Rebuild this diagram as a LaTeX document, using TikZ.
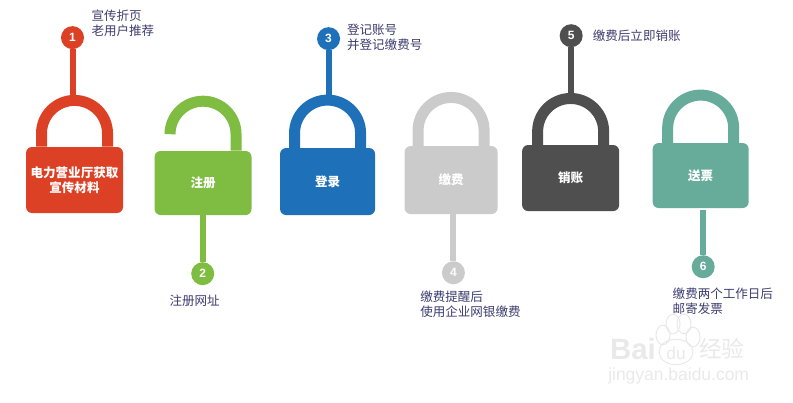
\documentclass[tikz,border=0pt]{standalone}
\usepackage{fontspec}
\setmainfont{Noto Sans CJK SC}
\newfontfamily\latinfont{Liberation Sans}
\usetikzlibrary{positioning}
\definecolor{lockred}{HTML}{DC4126}
\definecolor{lockgreen}{HTML}{7FBC42}
\definecolor{lockblue}{HTML}{1E71B8}
\definecolor{lockgray}{HTML}{CBCBCB}
\definecolor{lockdark}{HTML}{4F4F4F}
\definecolor{lockteal}{HTML}{67AB9B}
\definecolor{notetext}{HTML}{3C3C6E}
\definecolor{marktext}{HTML}{E9E9E9}

\begin{document}
\begin{tikzpicture}[
    x=0.75pt, y=0.75pt,
    lockbody/.style={fill=#1, rounded corners=4.5pt, minimum width=72.75pt,
minimum height=49.5pt, inner sep=0pt, align=center, text=white, font=\bfseries\fontsize{9.4}{11.2}\selectfont},
    numdot/.style={circle, fill=#1, minimum size=17.25pt, inner sep=0pt, text=white,
font=\latinfont\bfseries\fontsize{9}{10}\selectfont},
    note/.style={inner sep=0pt, align=left, text=notetext, font=\fontsize{9.4}{11.25}\selectfont},
    stem/.style={draw=#1, line width=4.5pt},
    shackle/.style={draw=#1, line width=8.25pt},
    marktxt/.style={inner sep=0pt, text=marktext}]

    \useasboundingbox (0,0) rectangle (793,-403);

    \node[lockbody=lockred] (lock1) at (74.5,-180) {电力营业厅获取\\宣传材料};
    \node[lockbody=lockgreen, minimum height=48pt, right=23.25pt of lock1, yshift=-2.25pt] (lock2) {注册};
    \node[lockbody=lockblue, minimum width=71.25pt, minimum height=50.25pt, right=21pt of lock2, yshift=1.1pt] (lock3) {登录};
    \node[lockbody=lockgray, minimum width=69.75pt, minimum height=51pt, right=21.75pt of lock3, yshift=1.1pt] (lock4) {缴费};
    \node[lockbody=lockdark, right=18pt of lock4, yshift=1.5pt] (lock5) {销账};
    \node[lockbody=lockteal, minimum width=72pt, minimum height=48.75pt, right=24.75pt of lock5, yshift=1.9pt] (lock6) {送票};

    % shackles
    \foreach \lock/\col/\leg in {lock1/lockred/10pt, lock3/lockblue/11pt, lock4/lockgray/11.5pt, lock5/lockdark/10pt, lock6/lockteal/11pt} {
        \coordinate (\lock-top) at ([yshift=\leg+28.9pt]\lock.north);
        \draw[shackle=\col] ([xshift=-24.75pt]\lock.north) -- ++(0,\leg) arc[start angle=180, end angle=0, radius=24.75pt] -- ++(0,-\leg);
    }
    \draw[shackle=lockgreen] ([xshift=24.75pt]lock2.north) -- ++(0,12.4pt) arc[start angle=0, end angle=180, radius=24.75pt];

    \node[numdot=lockred, above=73pt of lock1, xshift=-1.5pt] (num1) {1};
    \node[numdot=lockgreen, below=35pt of lock2, xshift=-0.25pt] (num2) {2};
    \node[numdot=lockblue, above=73pt of lock3, xshift=0.75pt] (num3) {3};
    \node[numdot=lockgray, below=35pt of lock4, xshift=1.75pt] (num4) {4};
    \node[numdot=lockdark, above=73pt of lock5, xshift=0.4pt] (num5) {5};
    \node[numdot=lockteal, below=35pt of lock6, xshift=1.9pt] (num6) {6};

    \draw[stem=lockred] (num1) -- (num1 |- lock1-top);
    \draw[stem=lockgreen] (num2) -- (num2 |- lock2.south);
    \draw[stem=lockblue] (num3) -- (num3 |- lock3-top);
    \draw[stem=lockgray] (num4) -- (num4 |- lock4.south);
    \draw[stem=lockdark] (num5) -- (num5 |- lock5-top);
    \draw[stem=lockteal, shorten >=1.5pt] (num6) -- (num6 |- lock6.south);

    \node[note, right=5.25pt of num1, yshift=10.5pt] (note1) {宣传折页\\老用户推荐};
    \node[note, below=7.25pt of num2, xshift=-6pt] (note2) {注册网址};
    \node[note, right=4.9pt of num3, yshift=1pt] (note3) {登记账号\\并登记缴费号};
    \node[note, below=4.25pt of num4, xshift=12.75pt] (note4) {缴费提醒后\\使用企业网银缴费};
    \node[note, right=7.25pt of num5] (note5) {缴费后立即销账};
    \node[note, below=7.25pt of num6, xshift=14.75pt] (note6) {缴费两个工作日后\\邮寄发票};

    % watermark
    \foreach \x/\y/\r in {663/-335/7, 673/-324/7, 684/-324/7, 693/-337/7}
        \draw[draw=marktext, line width=0.8pt] (\x,\y) ellipse[x radius=\r*0.75pt, y radius=\r*1.05pt];
    \draw[draw=marktext, line width=0.8pt] (676,-352) ellipse[x radius=12.75pt, y radius=9.5pt];
    \node[marktxt, font=\latinfont\bfseries\fontsize{22}{22}\selectfont, anchor=east] (markbai) at (656,-349) {Bai};
    \node[marktxt, font=\latinfont\fontsize{13}{13}\selectfont] (markdu) at (676,-353) {du};
    \node[marktxt, font=\fontsize{17}{17}\selectfont, anchor=west] (markjy) at (699,-349) {经验};
    \node[marktxt, font=\latinfont\fontsize{13.1}{13.1}\selectfont, anchor=west] (markurl) at (608,-376) {jingyan.baidu.com};
\end{tikzpicture}
\end{document}
